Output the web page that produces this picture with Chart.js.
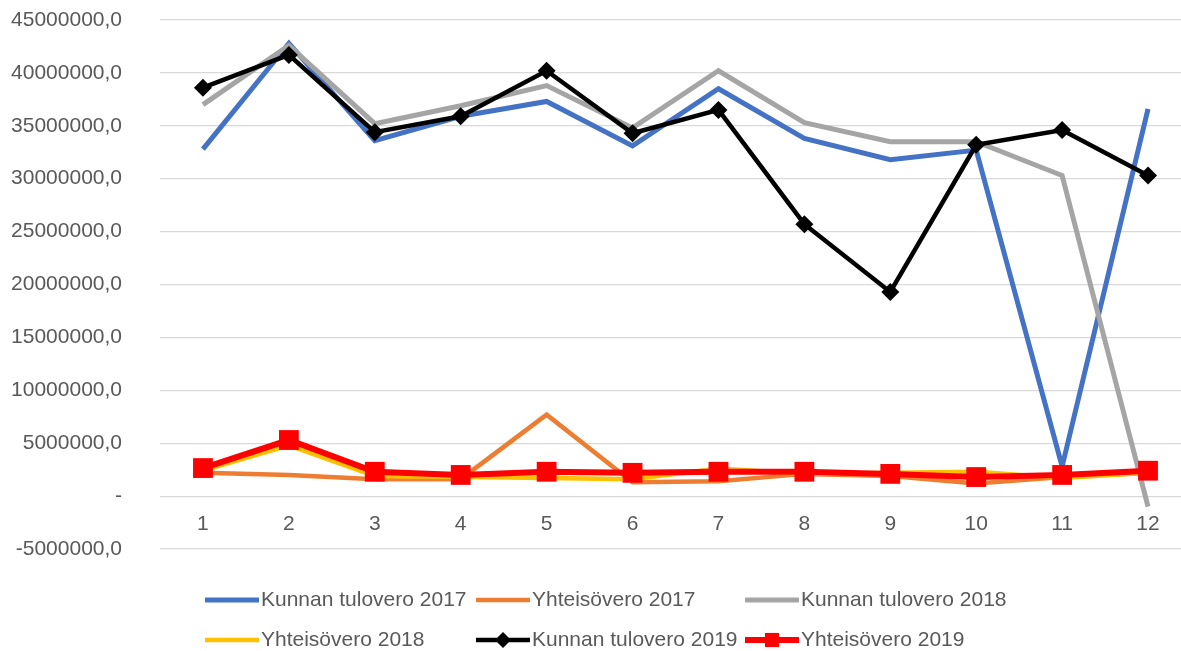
<!DOCTYPE html>
<html>
<head>
<meta charset="utf-8">
<script src="https://cdn.jsdelivr.net/npm/chart.js"></script>
<style>
  body { margin: 0; background: #fff; overflow: hidden; }
  #wrap { width: 1181px; height: 651px; overflow: hidden; }
</style>
</head>
<body>
<div id="wrap"><canvas id="myChart" width="1191" height="651"></canvas></div>
<script>
// months on the x axis
const months = ['1', '2', '3', '4', '5', '6', '7', '8', '9', '10', '11', '12'];

// series (euros)
const kunnanTulovero2017 = [32800000, 42800000, 33600000, 35900000, 37300000, 33100000, 38500000, 33800000, 31800000, 32700000, 2800000, 36600000];
const yhteisovero2017 = [2200000, 2000000, 1600000, 1600000, 7700000, 1300000, 1400000, 2100000, 1900000, 1200000, 1800000, 2200000];
const kunnanTulovero2018 = [37000000, 42600000, 35200000, 36900000, 38800000, 34800000, 40200000, 35300000, 33500000, 33500000, 30300000, -1000000];
const yhteisovero2018 = [2400000, 4800000, 1900000, 1800000, 1700000, 1600000, 2600000, 2100000, 2200000, 2300000, 1700000, 2200000];
const kunnanTulovero2019 = [38600000, 41700000, 34400000, 35900000, 40200000, 34300000, 36500000, 25700000, 19300000, 33200000, 34600000, 30300000];
const yhteisovero2019 = [2650000, 5300000, 2300000, 2000000, 2300000, 2200000, 2300000, 2300000, 2100000, 1800000, 2000000, 2400000];

// y axis ticks
const yMin = -5000000;
const yMax = 45000000;
const yStep = 5000000;

const textColor = '#595959';
const fontName = '"Liberation Sans", Arial, sans-serif';

function makeSet(label, data, color, width, style, radius, order) {
  return {
    label: label,
    data: data,
    borderColor: color,
    backgroundColor: color,
    borderWidth: width,
    pointStyle: style || 'circle',
    pointRadius: radius || 0,
    pointHoverRadius: radius || 0,
    pointBorderWidth: 0,
    pointBackgroundColor: color,
    tension: 0,
    order: order
  };
}

const datasets = [
  makeSet('Kunnan tulovero 2017', kunnanTulovero2017, '#4472C4', 5, null, 0, 6),
  makeSet('Yhteisövero 2017', yhteisovero2017, '#ED7D31', 4.5, null, 0, 5),
  makeSet('Kunnan tulovero 2018', kunnanTulovero2018, '#A5A5A5', 5, null, 0, 4),
  makeSet('Yhteisövero 2018', yhteisovero2018, '#FFC000', 4.5, null, 0, 3),
  makeSet('Kunnan tulovero 2019', kunnanTulovero2019, '#000000', 4.5, 'rectRot', 9, 2),
  makeSet('Yhteisövero 2019', yhteisovero2019, '#FF0000', 6, 'rect', 14, 1)
];

// excel-like legend in a 3 column grid under the chart
const gridLegend = {
  id: 'gridLegend',
  afterDraw(chart) {
    const ctx = chart.ctx;
    const colX = [205, 476, 745];
    const rowY = [600, 640];
    ctx.save();
    ctx.font = '21px ' + fontName;
    ctx.textBaseline = 'middle';
    ctx.textAlign = 'left';
    chart.data.datasets.forEach((ds, i) => {
      const x = colX[i % 3];
      const y = rowY[Math.floor(i / 3)];
      ctx.strokeStyle = ds.borderColor;
      ctx.lineWidth = ds.borderWidth;
      ctx.beginPath();
      ctx.moveTo(x, y);
      ctx.lineTo(x + 54, y);
      ctx.stroke();
      if (ds.pointRadius > 0) {
        ctx.fillStyle = ds.borderColor;
        Chart.helpers.drawPoint(ctx, {
          pointStyle: ds.pointStyle,
          radius: ds.pointStyle === 'rect' ? 10 : 8,
          borderWidth: 0,
          rotation: 0
        }, x + 27, y);
      }
      ctx.fillStyle = textColor;
      ctx.fillText(ds.label, x + 56, y);
    });
    ctx.restore();
  }
};

new Chart(document.getElementById('myChart'), {
  type: 'line',
  data: {
    labels: months,
    datasets: datasets
  },
  options: {
    responsive: false,
    animation: false,
    devicePixelRatio: 1,
    layout: {
      autoPadding: false,
      padding: { top: 20, right: 0, bottom: 102, left: 0 }
    },
    plugins: {
      legend: { display: false },
      tooltip: { enabled: false }
    },
    scales: {
      x: {
        position: { y: 0 },
        offset: true,
        grid: { display: false, drawTicks: false },
        border: { display: false },
        afterFit: (scale) => {
          scale.height = 0;
          scale.paddingLeft = 0;
          scale.paddingRight = 0;
        },
        ticks: {
          color: textColor,
          font: { size: 21, family: fontName },
          padding: 16,
          maxRotation: 0
        }
      },
      y: {
        min: yMin,
        max: yMax,
        grid: { color: '#D9D9D9', lineWidth: 1.2, drawTicks: false },
        border: { display: false },
        afterFit: (scale) => {
          scale.width = 160;
          scale.paddingTop = 0;
          scale.paddingBottom = 0;
        },
        ticks: {
          stepSize: yStep,
          color: textColor,
          font: { size: 21, family: fontName },
          padding: 38,
          callback: (value) => value === 0 ? '-' : value.toFixed(1).replace('.', ',')
        }
      }
    }
  },
  plugins: [gridLegend]
});
</script>
</body>
</html>
